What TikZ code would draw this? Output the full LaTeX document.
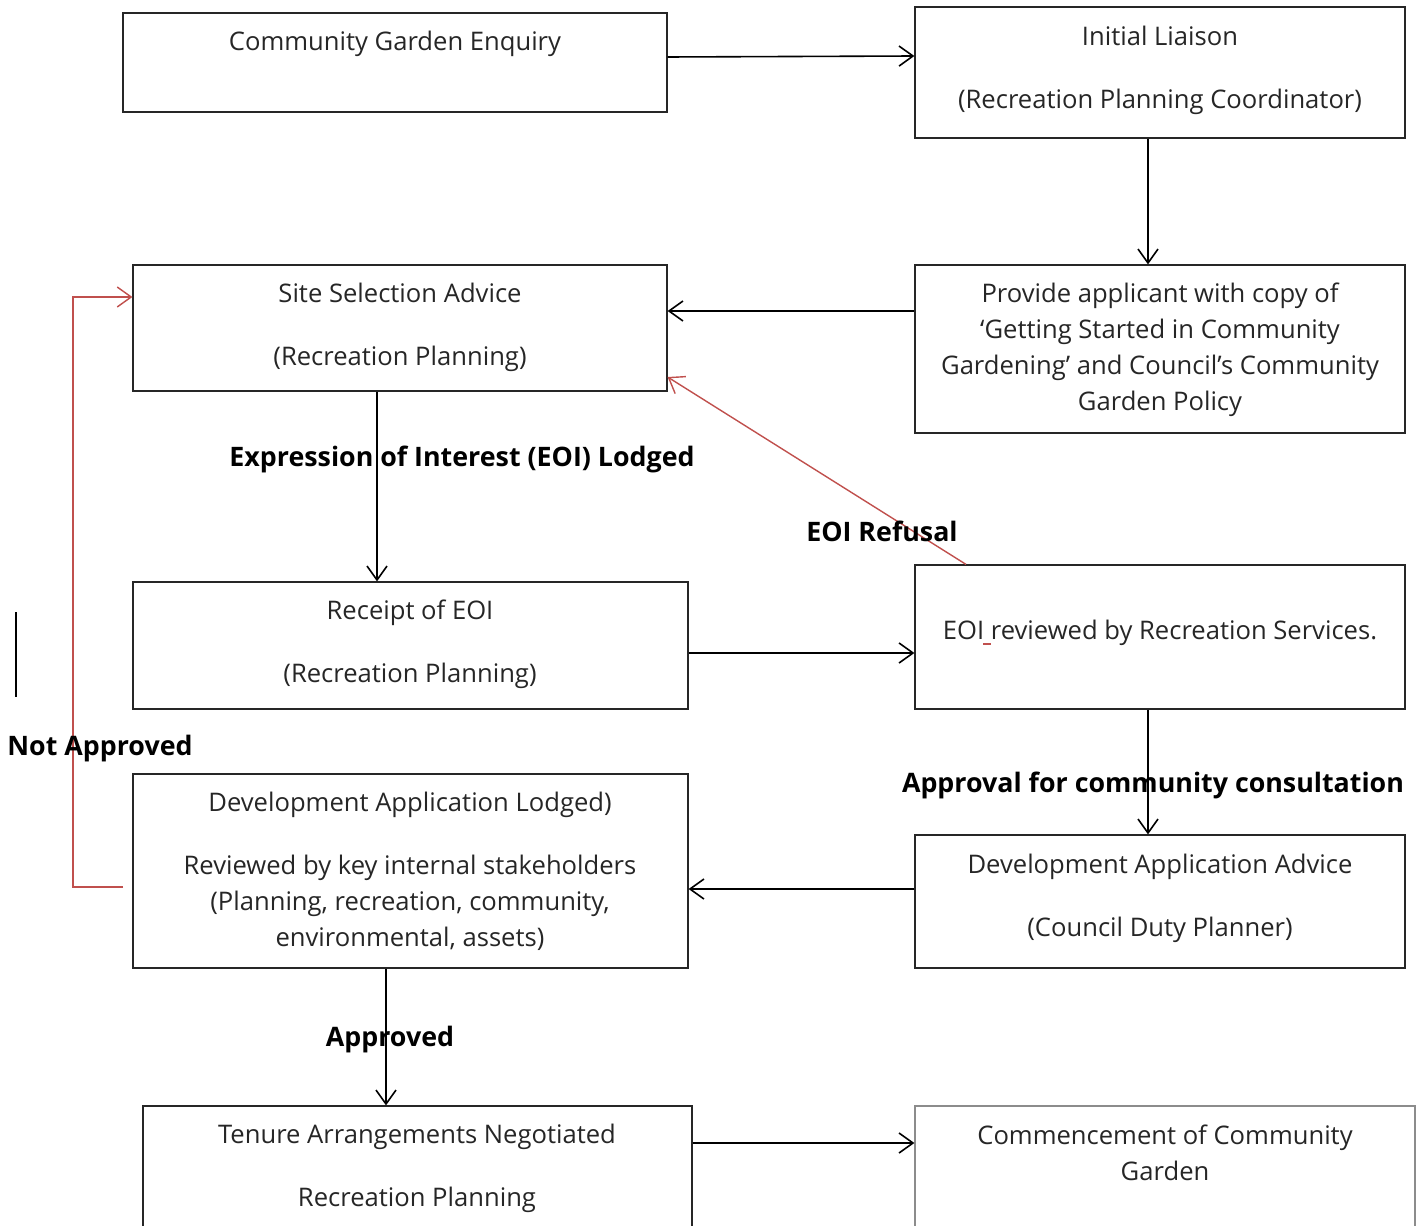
\documentclass[tikz,border=0pt]{standalone}
\usepackage{fontspec}
\setmainfont{Open Sans}
\usetikzlibrary{arrows.meta,fit}

\definecolor{refusal}{HTML}{C0504D}
\definecolor{boxtext}{HTML}{262626}

\tikzset{
  box/.style={draw=black!85, line width=0.6pt, inner sep=0pt},
  txt/.style={align=center, inner sep=0pt, anchor=north, text=boxtext,
    font=\fontsize{12.8pt}{18pt}\selectfont},
  lbl/.style={inner sep=0pt, font=\fontsize{13.4pt}{18pt}\selectfont\bfseries},
  flow/.style={black, line width=0.8pt, -{Straight Barb[length=7pt,width=10pt]}},
  back/.style={draw=refusal, line width=0.7pt, -{Straight Barb[length=7pt,width=10pt]}}
}

\begin{document}
\begin{tikzpicture}[x=0.5pt, y=-0.5pt]
    \useasboundingbox (0,0) rectangle (1422,1225);

    % boxes
    \node[box, fit={(123,13) (667,112)}] (enquiry) {};
    \node[box, fit={(915,7) (1405,138)}] (liaison) {};
    \node[box, fit={(133,265) (667,391)}] (site) {};
    \node[box, fit={(915,265) (1405,433)}] (provide) {};
    \node[box, fit={(133,582) (688,709)}] (receipt) {};
    \node[box, fit={(915,565) (1405,709)}] (review) {};
    \node[box, fit={(133,774) (688,968)}] (lodged) {};
    \node[box, fit={(915,835) (1405,968)}] (advice) {};
    \node[box, fit={(143,1106) (692,1240)}] (tenure) {};
    \node[box, draw=black!45, fit={(915,1106) (1415,1240)}] (garden) {};

    % box texts
    \node[txt] (enquiryT) at (395,31) {Community Garden Enquiry};
    \node[txt] (liaisonT) at (1160,26) {Initial Liaison\\[13.5pt](Recreation Planning Coordinator)};
    \node[txt] (siteT) at (400,283) {Site Selection Advice\\[13.5pt](Recreation Planning)};
    \node[txt] (provideT) at (1160,283) {Provide applicant with copy of\\
      ‘Getting Started in Community\\ Gardening’ and Council’s Community\\ Garden Policy};
    \node[txt] (receiptT) at (410,600) {Receipt of EOI\\[13.5pt](Recreation Planning)};
    \node[txt] (reviewT) at (1160,620) {EOI reviewed by Recreation Services.};
    \node[txt] (lodgedT) at (410,792) {Development Application Lodged)\\[13.5pt]
      Reviewed by key internal stakeholders\\ (Planning, recreation, community,\\ environmental, assets)};
    \node[txt] (adviceT) at (1160,854) {Development Application Advice\\[13.5pt](Council Duty Planner)};
    \node[txt] (tenureT) at (417,1124) {Tenure Arrangements Negotiated\\[13.5pt]Recreation Planning};
    \node[txt] (gardenT) at (1165,1124) {Commencement of Community\\Garden};

    % connectors
    \draw[flow] (enquiry.east |- 0,57) -- (liaison.west |- 0,56);
    \draw[flow] (liaison.south -| 1148,0) -- (provide.north -| 1148,0);
    \draw[flow] (provide.west |- 0,311) -- (site.east |- 0,311);
    \draw[flow] (site.south -| 377,0) -- (receipt.north -| 377,0);
    \draw[flow] (receipt.east |- 0,653) -- (review.west |- 0,653);
    \draw[flow] (review.south -| 1148,0) -- (advice.north -| 1148,0);
    \draw[flow] (advice.west |- 0,889) -- (lodged.east |- 0,889);
    \draw[flow] (lodged.south -| 386,0) -- (tenure.north -| 386,0);
    \draw[flow] (tenure.east |- 0,1143) -- (garden.west |- 0,1143);

    \draw[back] (review.north -| 966,0) -- (site.east |- 0,377);
    \coordinate (notStart) at (123,887);
    \draw[back] (notStart) -- (73,887) |- (site.west |- 0,297);

    % labels
    \node[lbl] (lodgedL) at (462,459) {Expression of Interest (EOI) Lodged};
    \node[lbl] (refusalL) at (882,531) {EOI Refusal};
    \node[lbl] (notL) at (100,749) {Not Approved};
    \node[lbl] (consultL) at (1153,785) {Approval for community consultation};
    \node[lbl] (approvedL) at (390,1040) {Approved};

    \draw[line width=1pt] (16,612) -- (16,697);
    \draw[refusal, line width=1pt] (983,644) -- (991,644);
\end{tikzpicture}
\end{document}
